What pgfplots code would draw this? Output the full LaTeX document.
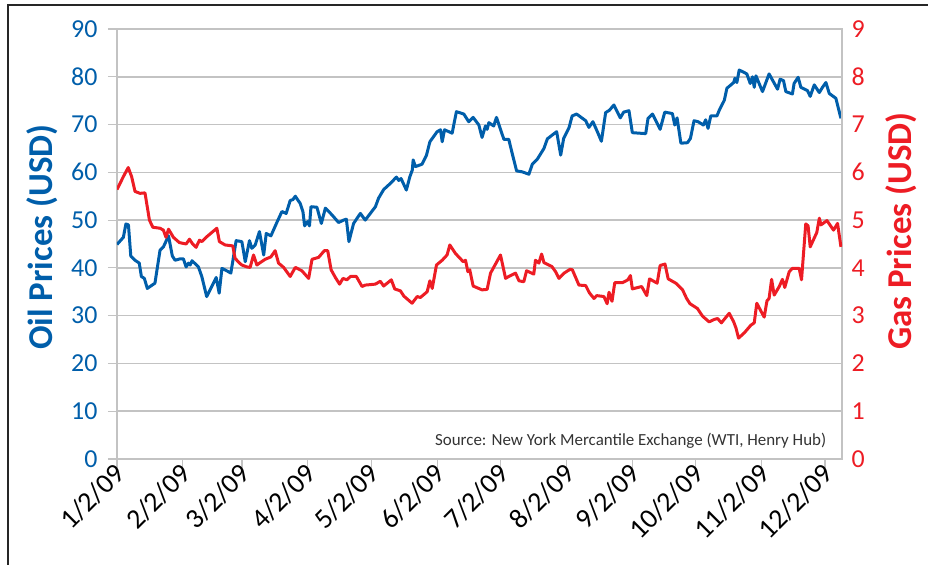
\documentclass[border=0pt]{standalone}
\usepackage{pgfplots}
\pgfplotsset{compat=1.18}
\usepackage{fontspec}
\setmainfont{Carlito}
\definecolor{oilblue}{RGB}{0,94,170}
\definecolor{gasred}{RGB}{237,28,36}
\definecolor{gridgray}{RGB}{195,195,195}

\begin{document}
\begin{tikzpicture}
\useasboundingbox (-117bp,-106bp) rectangle (811bp,459bp);
\draw[line width=1.5bp, black!85] (-109bp,-106bp) -- (-109bp,454bp) -- (811bp,454bp);
\begin{axis}[
  at={(0,0)}, anchor=south west,
  scale only axis, width=725bp, height=430bp,
  xmin=0, xmax=342, ymin=0, ymax=90,
  xtick={0,31,59,90,120,151,181,212,243,273,304,334},
  xticklabels={1/2/09,2/2/09,3/2/09,4/2/09,5/2/09,6/2/09,7/2/09,8/2/09,9/2/09,10/2/09,11/2/09,12/2/09},
  ytick={0,10,...,90},
  axis line style={gridgray, line width=1.2bp},
  every tick/.style={gridgray, line width=1.2bp},
  tick align=outside,
  major tick length=9bp,
  xtick pos=bottom, ytick pos=left,
  ymajorgrids, major grid style={gridgray, line width=1.5bp},
  tick label style={font=\fontsize{26}{30}\selectfont},
  yticklabel style={text=oilblue, xshift=-7bp},
  xticklabel style={font=\fontsize{28}{32}\selectfont, rotate=45, anchor=east, text=black, xshift=5bp, yshift=-3bp},
  /pgf/number format/assume math mode=true,
  ylabel={Oil Prices (USD)},
  ylabel style={font=\fontsize{35}{40}\selectfont\bfseries, text=oilblue, at={(axis description cs:-0.1034,0.516)}, anchor=center},
]
\addplot[oilblue, line width=3bp, line join=round] table {
0 44.9
3 46.4
4.2 49.2
5.4 49.0
6.5 42.5
8.5 41.6
10.5 41.0
11.5 38.2
12.9 37.8
14.3 35.7
17.9 36.8
20.3 43.7
21.9 44.4
24.3 46.7
26.1 42.5
27.4 41.6
29.8 41.9
31.3 41.9
32.6 40.2
33.7 41.0
34.5 40.6
35.4 41.5
38.4 40.2
40.0 38.2
42.3 34.0
44.7 36.1
46.8 38.0
48.2 34.7
49.5 39.9
52.6 39.2
53.7 38.9
56.2 45.7
58.9 45.5
60.5 41.3
62.5 45.7
63.6 44.1
65.2 44.8
67.2 47.6
69.2 42.7
70.4 47.2
72.6 46.7
75.4 49.5
77.8 51.8
79.8 51.4
81.7 54.1
83.0 54.3
84.1 55.0
86.4 53.5
87.7 51.8
88.5 48.8
89.9 49.7
90.8 48.8
91.5 52.8
94.3 52.7
96.4 49.3
98.3 52.5
101.4 51.1
104.5 49.5
106.9 50.0
108.2 50.2
109.4 45.5
111.6 49.3
114.8 51.4
117.1 50.0
119.5 51.4
121.9 52.8
123.4 54.6
125.8 56.4
129.0 57.7
131.8 59.0
132.9 58.3
134.0 58.7
136.5 56.3
138.1 59.0
139.3 60.5
139.7 62.6
140.8 61.2
143.9 61.7
146.0 63.6
147.6 66.4
151.0 68.5
152.6 68.9
153.4 66.4
154.5 68.9
158.1 68.2
160.1 72.7
163.6 72.2
165.9 70.6
168.0 71.5
170.7 69.9
172.2 67.3
173.8 69.7
174.6 69.0
175.4 70.4
177.7 69.7
179.0 71.5
180.6 69.4
182.5 66.9
184.8 66.9
186.4 64.0
188.5 60.3
191.2 60.1
194.3 59.6
195.9 61.7
198.2 62.7
201.4 65.0
203.0 67.0
205.3 67.8
207.4 68.5
209.3 63.6
210.7 67.1
213.2 69.3
214.7 71.8
216.8 72.2
221.1 70.8
222.6 69.4
224.5 70.6
226.6 68.5
228.5 66.5
230.5 72.5
232.3 73.0
234.4 74.1
237.4 71.4
239.0 72.6
241.5 72.9
243.1 68.3
249.4 68.1
250.5 71.3
252.6 72.2
256.2 69.0
258.4 72.6
262.0 72.3
263.1 69.9
264.2 71.4
266.0 66.1
269.1 66.2
270.5 67.1
272.2 70.8
274.1 70.6
276.6 69.9
277.7 71.0
278.8 69.2
280.1 71.8
283.0 71.8
284.1 73.0
286.5 75.1
287.7 77.6
289.6 78.3
290.9 78.8
291.5 79.7
292.4 78.8
293.5 81.4
295.0 81.1
297.1 80.6
298.7 78.6
299.8 80.0
300.6 77.8
301.4 80.2
304.5 76.9
307.6 80.6
311.6 77.4
312.8 79.5
314.4 79.2
315.5 76.9
318.6 76.4
319.4 78.6
321.3 79.9
322.6 77.8
325.7 77.1
327.0 75.9
328.9 78.3
331.3 76.7
332.8 77.8
334.4 78.8
336.0 76.5
339.1 75.5
341.5 71.3
};
\node[anchor=east, font=\fontsize{17}{20}\selectfont, text=black!80] at (axis description cs:0.983,0.042) {Source: New York Mercantile Exchange (WTI, Henry Hub)};
\end{axis}
\begin{axis}[
  at={(0,0)}, anchor=south west,
  scale only axis, width=725bp, height=430bp,
  xmin=0, xmax=342, ymin=0, ymax=9,
  axis x line=none, axis y line*=right,
  ytick={0,1,...,9},
  axis line style={gridgray, line width=1.2bp},
  major tick length=0pt,
  tick label style={font=\fontsize{26}{30}\selectfont},
  yticklabel style={text=gasred, xshift=6bp},
  /pgf/number format/assume math mode=true,
  ylabel={Gas Prices (USD)},
  ylabel style={font=\fontsize{35}{40}\selectfont\bfseries, text=gasred, at={(axis description cs:1.081,0.53)}, anchor=center},
]
\addplot[gasred, line width=3bp, line join=round] table {
0 5.64
3 5.91
5.3 6.10
6.9 5.91
8.5 5.60
10.9 5.56
13.2 5.57
15.3 5.00
16.9 4.85
20.3 4.83
21.9 4.79
23.1 4.64
24.3 4.81
26.6 4.64
29.4 4.53
32.6 4.50
34.2 4.60
35.7 4.50
37.3 4.43
38.9 4.58
40.0 4.55
42.3 4.65
47.1 4.83
48.3 4.55
51.0 4.48
54.6 4.46
55.7 4.20
57.8 4.10
58.9 4.06
61.3 4.02
62.8 4.01
64.4 4.27
66.0 4.06
67.2 4.10
69.9 4.18
72.6 4.23
74.6 4.36
76.2 4.10
78.6 4.01
81.7 3.82
84.1 4.01
87.2 3.94
90.4 3.78
92.0 4.18
95.1 4.22
97.8 4.36
99.4 4.36
101.0 3.96
103.0 3.80
105.0 3.66
106.6 3.78
108.5 3.75
110.1 3.82
112.9 3.82
115.6 3.61
117.1 3.64
121.9 3.66
124.2 3.72
125.8 3.62
129.4 3.75
131.0 3.56
133.7 3.52
135.3 3.41
139.2 3.26
141.6 3.40
143.1 3.38
146.3 3.50
147.6 3.73
148.7 3.57
150.7 4.06
153.4 4.16
155.7 4.27
157.0 4.48
159.7 4.30
163.3 4.13
164.4 4.16
165.5 3.92
166.4 3.96
168.0 3.62
172.2 3.54
174.6 3.55
176.2 3.89
180.9 4.27
183.3 3.78
184.8 3.82
188.0 3.89
189.6 3.73
191.9 3.71
193.2 3.94
196.6 3.87
197.4 4.16
199.0 4.10
200.3 4.29
201.4 4.11
205.1 4.03
206.9 3.92
208.5 3.78
210.9 3.89
213.7 3.97
214.8 3.96
217.9 3.64
221.1 3.63
222.8 3.48
225.0 3.36
226.3 3.42
229.7 3.40
231.2 3.25
232.1 3.49
233.5 3.30
234.8 3.69
238.4 3.69
241.0 3.75
242.2 3.84
243.1 3.56
247.5 3.61
249.9 3.42
251.2 3.77
254.8 3.68
256.2 4.05
258.5 4.08
260.0 3.77
263.6 3.68
266.8 3.54
268.7 3.36
270.3 3.25
273.8 3.15
276.2 2.99
279.3 2.87
281.7 2.92
283.3 2.94
285.1 2.85
288.8 3.05
290.9 2.87
292.0 2.74
293.2 2.53
295.9 2.64
299.0 2.80
300.6 2.85
301.8 3.26
303.7 3.10
305.3 2.97
306.6 3.31
307.6 3.36
308.8 3.76
310.0 3.43
312.4 3.61
313.9 3.76
315.0 3.59
317.1 3.92
318.6 3.99
321.8 3.99
322.9 3.75
324.9 4.92
326.0 4.88
327.0 4.44
330.1 4.74
331.3 5.04
332.1 4.90
334.9 4.99
338.0 4.79
339.9 4.93
341.5 4.44
};
\end{axis}
\end{tikzpicture}
\end{document}
